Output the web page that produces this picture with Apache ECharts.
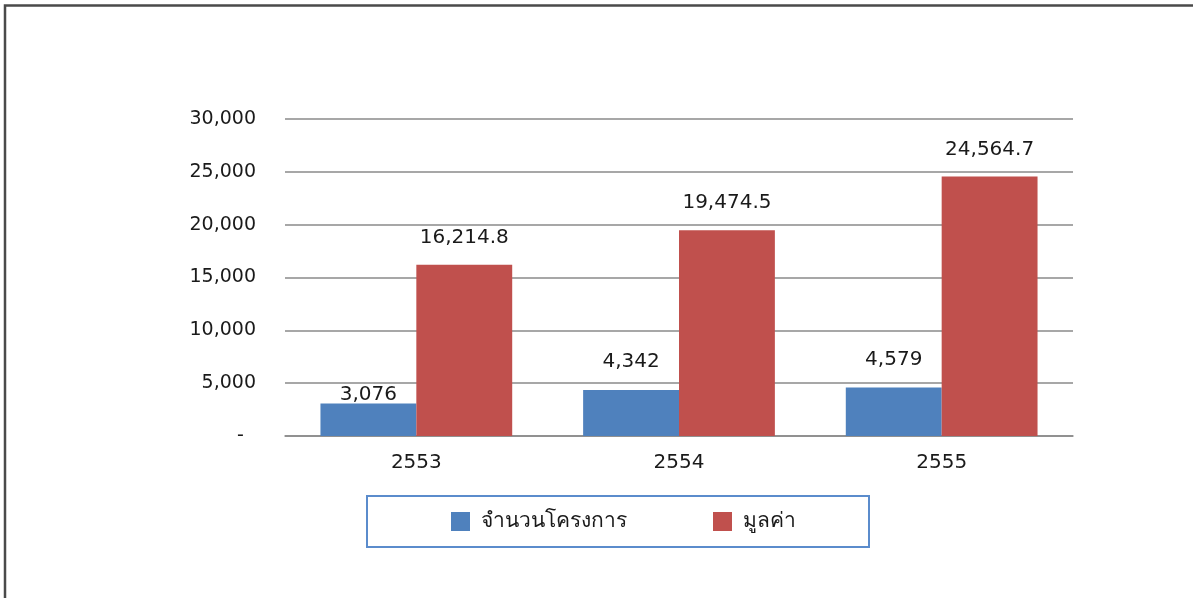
<!DOCTYPE html>
<html>
<head>
<meta charset="utf-8">
<script src="https://cdn.jsdelivr.net/npm/echarts@6/dist/echarts.min.js"></script>
<style>
html,body{margin:0;padding:0;background:#fff;}
#c{width:1193px;height:598px;}
</style>
</head>
<body>
<div id="c"></div>
<script>
const categories = ['2553', '2554', '2555'];
const seriesNames = ['จำนวนโครงการ', 'มูลค่า'];
const projectCounts = [3076, 4342, 4579];
const projectValues = [16214.8, 19474.5, 24564.7];
const yTicks = [0, 5000, 10000, 15000, 20000, 25000, 30000];

const FONT = '"DejaVu Sans", "Noto Sans", sans-serif';
const fmtTick = v => v === 0 ? '-  ' : v.toLocaleString('en-US');
const fmtCount = v => v.toLocaleString('en-US');
const fmtValue = v => v.toLocaleString('en-US', {minimumFractionDigits: 1, maximumFractionDigits: 1});

const chart = echarts.init(document.getElementById('c'), null, {renderer: 'canvas'});
chart.setOption({
  animation: false,
  backgroundColor: '#ffffff',
  graphic: [{
    type: 'rect',
    shape: {x: 5, y: 5.5, width: 1300, height: 700},
    style: {fill: 'none', stroke: '#4a4a4a', lineWidth: 2.5},
    silent: true
  }],
  grid: {left: 285, right: 120, top: 119, bottom: 162, containLabel: false},
  legend: {
    data: seriesNames,
    left: 367, top: 496,
    orient: 'horizontal',
    itemWidth: 19, itemHeight: 19,
    itemGap: 86,
    icon: 'rect',
    padding: [15, 73, 15, 84],
    borderColor: '#5b8ccc', borderWidth: 2,
    textStyle: {fontFamily: FONT, fontSize: 21, color: '#1a1a1a', padding: [0, 0, 0, 6]}
  },
  xAxis: {
    type: 'category',
    data: categories,
    axisTick: {show: false},
    axisLine: {lineStyle: {color: '#8a8a8a', width: 1.5}},
    axisLabel: {fontFamily: FONT, fontSize: 20, color: '#1a1a1a', margin: 17}
  },
  yAxis: {
    type: 'value',
    min: yTicks[0], max: yTicks[yTicks.length - 1], interval: yTicks[1] - yTicks[0],
    axisLine: {show: false},
    axisTick: {show: false},
    splitLine: {lineStyle: {color: '#8a8a8a', width: 1.5}},
    axisLabel: {fontFamily: FONT, fontSize: 19, color: '#1a1a1a', margin: 29, formatter: fmtTick}
  },
  series: [
    {
      name: seriesNames[0], type: 'bar', barGap: '0%', barCategoryGap: '27%',
      itemStyle: {color: '#4f81bd'},
      data: projectCounts.map((v, i) => i === 0 ? {value: v, label: {distance: -1}} : v),
      label: {show: true, position: 'top', distance: 18, fontFamily: FONT, fontSize: 20, color: '#1a1a1a',
        formatter: p => fmtCount(p.value)}
    },
    {
      name: seriesNames[1], type: 'bar', barGap: '0%', barCategoryGap: '27%',
      itemStyle: {color: '#c0504d'},
      data: projectValues,
      label: {show: true, position: 'top', distance: 17, fontFamily: FONT, fontSize: 20, color: '#1a1a1a',
        formatter: p => fmtValue(p.value)}
    }
  ]
});
</script>
</body>
</html>
